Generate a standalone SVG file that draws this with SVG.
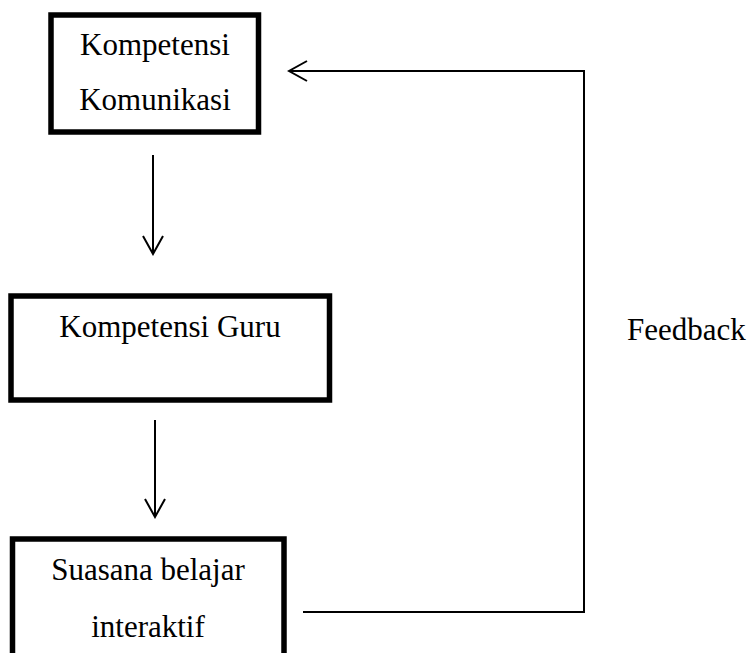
<svg xmlns="http://www.w3.org/2000/svg" width="751" height="653" viewBox="0 0 751 653">
<style>
.box{fill:#fff;stroke:#000;stroke-width:5.5}
.lbl{font-family:"Liberation Serif","Times New Roman",serif;font-size:31px;fill:#000;text-anchor:middle}
.con{fill:none;stroke:#000;stroke-width:2}
</style>
<defs>
<marker id="arr" viewBox="-20 -12 22 24" markerWidth="22" markerHeight="24" refX="0" refY="0" orient="auto" markerUnits="userSpaceOnUse">
<path d="M-18,-10 L0,0 L-18,10" fill="none" stroke="#000" stroke-width="2"/>
</marker>
</defs>
<rect width="751" height="653" fill="#fff"/>
<g id="connectors">
<path class="con" d="M153,155 V254" marker-end="url(#arr)"/>
<path class="con" d="M155,420 V517" marker-end="url(#arr)"/>
<path class="con" d="M303,612 H584 V71 H289" marker-end="url(#arr)"/>
</g>
<g id="n-komunikasi">
<rect class="box" x="51" y="15" width="207.5" height="117"/>
<text class="lbl" x="155" y="55">Kompetensi</text>
<text class="lbl" x="155" y="110">Komunikasi</text>
</g>
<g id="n-guru">
<rect class="box" x="11" y="296" width="318.5" height="104"/>
<text class="lbl" x="170" y="337">Kompetensi Guru</text>
</g>
<g id="n-suasana">
<rect class="box" x="12.5" y="539" width="271.5" height="130"/>
<text class="lbl" x="148" y="580">Suasana belajar</text>
<text class="lbl" x="148" y="637">interaktif</text>
</g>
<g id="feedback-label">
<text class="lbl" x="627" y="340" style="text-anchor:start">Feedback</text>
</g>
</svg>
